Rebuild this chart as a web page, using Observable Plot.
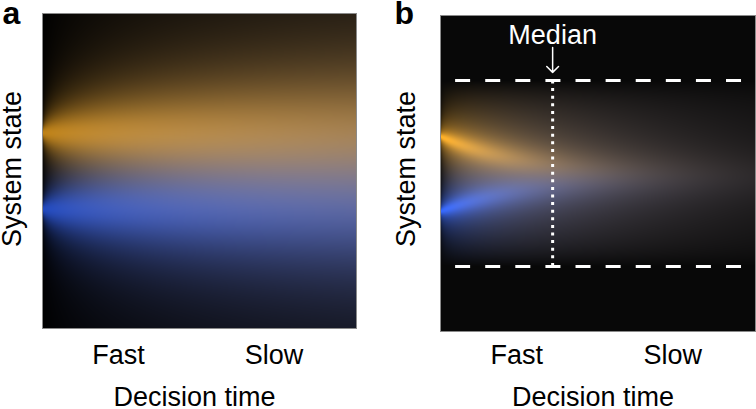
<!DOCTYPE html>
<html>
<head>
<meta charset="utf-8">
<script src="https://cdn.jsdelivr.net/npm/d3@7"></script>
<script src="https://cdn.jsdelivr.net/npm/@observablehq/plot@0.6"></script>
<style>
  html, body { margin: 0; padding: 0; background: #fff; }
  #wrap { position: relative; width: 756px; height: 409px; overflow: hidden; }
  #wrap > svg { position: absolute; top: 0; }
</style>
</head>
<body>
<div id="wrap"></div>
<script>
// ---- data ----
const panelLabels = ["a", "b"];
const componentNames = ["choice 1", "choice 2"];
const componentRGB = [[255, 172, 25], [40, 95, 255]];   // orange, blue
const startStateA = [0.621, 0.379];                     // initial system state, panel a
const startStateB = [0.617, 0.380];                     // initial system state, panel b
const convergeStateB = 0.49;                            // state both densities drift to, panel b
const spreadA = 0.22;                                   // spread at t = 1, panel a
const spreadB = 0.09;                                   // core spread at t = 1, panel b
const haloB = [4, 0.4];                                 // halo width factor and weight, panel b
const spreadExponent = 0.4;                             // growth of spread with time
const amplitudeA = [0.75, 0.6];                         // brightness at t = 0 and t = 1, panel a
const driftTau = 0.3;                                   // relaxation to centre, panel b
const decayTau = 0.48;                                  // absorption decay, panel b
const boundaries = [0.206, 0.794];                      // absorbing bounds, panel b
const boundaryExtent = [0.048, 0.956];                  // x extent of dashed bounds
const medianTime = 0.356;
const medianLabel = "Median";
const tickPositions = [0.242, 0.737];
const tickLabels = ["Fast", "Slow"];
const xLabel = "Decision time";
const yLabel = "System state";

const FONT = "'Liberation Sans', Arial, Helvetica, sans-serif";
const FS = 27;
const toColor = (r, g, b) => `rgb(${Math.min(255, Math.round(r))},${Math.min(255, Math.round(g))},${Math.min(255, Math.round(b))})`;

function densityA(t, y) {
  const w = 0.004 + spreadA * Math.pow(Math.max(0, t), spreadExponent);
  const A = amplitudeA[0] + (amplitudeA[1] - amplitudeA[0]) * t;
  let r = 0, g = 0, b = 0;
  for (let k = 0; k < startStateA.length; ++k) {
    const d = (y - startStateA[k]) / w;
    const p = A / (1 + d * d);
    r += p * componentRGB[k][0]; g += p * componentRGB[k][1]; b += p * componentRGB[k][2];
  }
  return toColor(r, g, b);
}

function densityB(t, y) {
  const base = 8;
  const [lo, hi] = boundaries;
  if (y <= lo || y >= hi) return toColor(base, base, base);
  const u = (y - lo) / (hi - lo);
  const edge = 1 - Math.pow(Math.abs(2 * u - 1), 6);
  const w = 0.003 + spreadB * Math.pow(Math.max(0, t), spreadExponent);
  const A = Math.exp(-t / decayTau) * edge;
  let r = 0, g = 0, b = 0;
  for (let k = 0; k < startStateB.length; ++k) {
    const mu = convergeStateB + (startStateB[k] - convergeStateB) * Math.exp(-t / driftTau);
    const d = (y - mu) / w;
    const dh = d / haloB[0];
    const p = A * ((1 - haloB[1]) / (1 + d * d) + haloB[1] / (1 + dh * dh));
    r += p * componentRGB[k][0]; g += p * componentRGB[k][1]; b += p * componentRGB[k][2];
  }
  return toColor(base + r, base + g, base + b);
}

function labels(panel, m) {
  return [
    Plot.text([panelLabels[panel]], {text: d => d, frameAnchor: "top-left", textAnchor: "start", lineAnchor: "bottom",
      dx: m.labelDx, dy: m.labelDy, fontSize: 32, fontWeight: "bold", fill: "#000"}),
    Plot.text([yLabel], {text: d => d, frameAnchor: "left", rotate: -90, textAnchor: "middle", lineAnchor: "bottom",
      dx: m.yDx, dy: m.yDy, fontSize: FS, fill: "#000"}),
    Plot.text(tickLabels, {text: d => d, x: (d, i) => tickPositions[i], frameAnchor: "bottom", lineAnchor: "bottom",
      dy: m.tickDy, fontSize: FS, fill: "#000"}),
    Plot.text([xLabel], {text: d => d, frameAnchor: "bottom", lineAnchor: "bottom", dx: -5,
      dy: m.xDy, fontSize: FS, fill: "#000"})
  ];
}

const common = {
  width: 378, height: 409,
  x: {domain: [0, 1], axis: null},
  y: {domain: [0, 1], axis: null},
  color: {type: "identity"},
  style: {fontFamily: FONT, fontSize: FS + "px", background: "transparent", overflow: "visible"}
};

const plotA = Plot.plot({
  ...common,
  marginLeft: 42, marginRight: 22, marginTop: 13, marginBottom: 81,
  marks: [
    Plot.raster({fill: (x, y) => densityA(x, y), x1: 0, x2: 1, y1: 0, y2: 1, pixelSize: 1}),
    Plot.frame({stroke: "#8a8a8a", strokeWidth: 1}),
    ...labels(0, {labelDx: -40, labelDy: 10, yDx: -21.5, yDy: -2, tickDy: 35, xDy: 77})
  ]
});

const plotB = Plot.plot({
  ...common,
  marginLeft: 62, marginRight: 1, marginTop: 15, marginBottom: 78,
  marks: [
    Plot.raster({fill: (x, y) => densityB(x, y), x1: 0, x2: 1, y1: 0, y2: 1, pixelSize: 1}),
    Plot.frame({stroke: "#8a8a8a", strokeWidth: 1}),
    Plot.ruleY(boundaries, {x1: boundaryExtent[0], x2: boundaryExtent[1], stroke: "#fff", strokeWidth: 3, strokeDasharray: "15,15.1"}),
    Plot.ruleX([medianTime], {y1: boundaries[0], y2: boundaries[1], stroke: "#fff", strokeWidth: 3, strokeDasharray: "3,4.6"}),
    Plot.arrow([medianTime], {x1: d => d, x2: d => d, y1: boundaries[1] + 0.105, y2: boundaries[1] + 0.026,
      stroke: "#fff", strokeWidth: 1.5, headAngle: 90, headLength: 10}),
    Plot.text([medianLabel], {text: d => d, x: medianTime, frameAnchor: "top", lineAnchor: "bottom", dy: 28.6,
      fontSize: FS, fill: "#fff"}),
    ...labels(1, {labelDx: -46, labelDy: 8, yDx: -26, yDy: -4.5, tickDy: 32, xDy: 74})
  ]
});

plotA.style.left = "0px";
plotB.style.left = "378px";
document.getElementById("wrap").append(plotA, plotB);
</script>
</body>
</html>
